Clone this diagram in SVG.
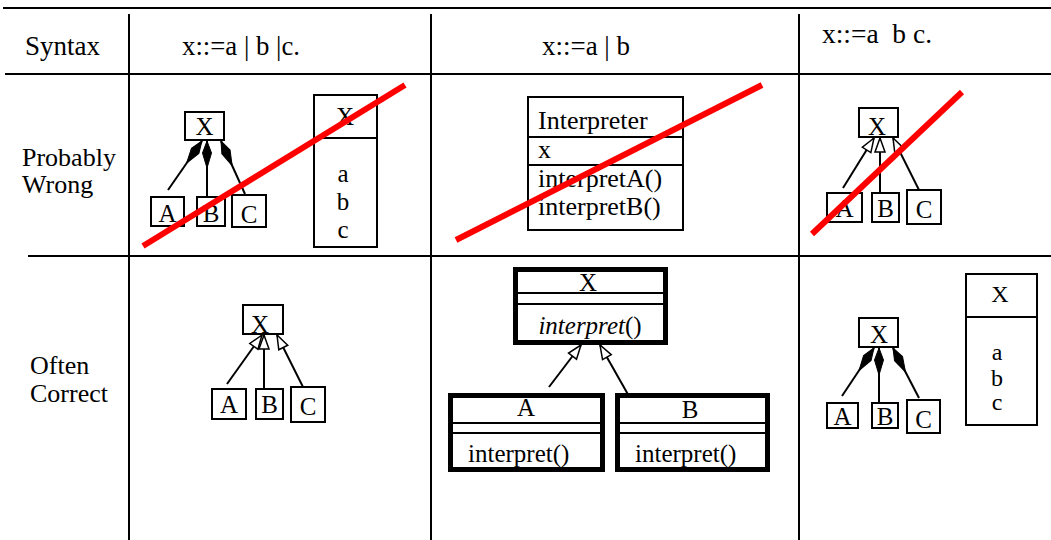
<svg xmlns="http://www.w3.org/2000/svg" width="1051" height="540" viewBox="0 0 1051 540" font-family="'Liberation Serif','Times New Roman',serif">
<style>
.grid{stroke:#000;stroke-width:2;fill:none}
.box{fill:#fff;stroke:#000;stroke-width:2}
.tbox{fill:#fff;stroke:#000;stroke-width:5}
.t{font-family:"Liberation Serif","Times New Roman",serif;fill:#000}
.m{text-anchor:middle}
.lbl{font-size:25px}
.link{stroke:#000;stroke-width:2;fill:none}
.strike{stroke:#ff0000;stroke-width:6;stroke-linecap:butt}
</style>
<defs>
<marker id="dia" viewBox="-30 -7 32 14" refX="0" refY="0" markerWidth="32" markerHeight="14" markerUnits="userSpaceOnUse" orient="auto">
<path d="M0,0 L-12,-4.5 L-27,0 L-12,4.5 Z" fill="#000" stroke="#000" stroke-width="1"/>
</marker>
<marker id="tri" viewBox="-17 -8 19 16" refX="0" refY="0" markerWidth="19" markerHeight="16" markerUnits="userSpaceOnUse" orient="auto">
<path d="M0,0 L-14,-5 L-14,5 Z" fill="#fff" stroke="#000" stroke-width="1.5"/>
</marker>
</defs>

<g id="table">
<line class="grid" x1="3" y1="8" x2="1051" y2="8"/>
<line class="grid" x1="5" y1="74" x2="1051" y2="74"/>
<line class="grid" x1="28" y1="256" x2="1051" y2="256"/>
<line class="grid" x1="129" y1="14" x2="129" y2="540"/>
<line class="grid" x1="431" y1="14" x2="431" y2="540"/>
<line class="grid" x1="799" y1="14" x2="799" y2="540"/>
</g>

<g id="headers" class="t">
<text class="t" x="25" y="55" font-size="28" textLength="75" lengthAdjust="spacingAndGlyphs">Syntax</text>
<text class="t" x="182" y="55" font-size="28" textLength="118" lengthAdjust="spacingAndGlyphs">x::=a | b |c.</text>
<text class="t" x="542" y="55" font-size="28" textLength="88" lengthAdjust="spacingAndGlyphs">x::=a | b</text>
<text class="t" x="822" y="43" font-size="28" textLength="110" lengthAdjust="spacingAndGlyphs" xml:space="preserve">x::=a  b c.</text>
<text class="t" x="22" y="166" font-size="26">Probably</text>
<text class="t" x="22" y="193" font-size="26">Wrong</text>
<text class="t" x="30" y="374" font-size="26">Often</text>
<text class="t" x="30" y="402" font-size="26">Correct</text>
</g>

<g id="connectors">
<line class="link" x1="168" y1="190" x2="202" y2="141" marker-end="url(#dia)"/>
<line class="link" x1="207" y1="197" x2="207" y2="141" marker-end="url(#dia)"/>
<line class="link" x1="245" y1="194" x2="221" y2="141" marker-end="url(#dia)"/>
<line class="link" x1="843" y1="188" x2="874" y2="138" marker-end="url(#tri)"/>
<line class="link" x1="880" y1="193" x2="880" y2="138" marker-end="url(#tri)"/>
<line class="link" x1="919" y1="190" x2="893" y2="138" marker-end="url(#tri)"/>
<line class="link" x1="227" y1="384" x2="262" y2="335" marker-end="url(#tri)"/>
<line class="link" x1="264" y1="389" x2="264" y2="335" marker-end="url(#tri)"/>
<line class="link" x1="303" y1="387" x2="277" y2="335" marker-end="url(#tri)"/>
<line class="link" x1="549" y1="387" x2="581" y2="345" marker-end="url(#tri)"/>
<line class="link" x1="630" y1="398" x2="600" y2="345" marker-end="url(#tri)"/>
<line class="link" x1="842" y1="396" x2="874" y2="348" marker-end="url(#dia)"/>
<line class="link" x1="879" y1="403" x2="879" y2="348" marker-end="url(#dia)"/>
<line class="link" x1="919" y1="398" x2="893" y2="348" marker-end="url(#dia)"/>
</g>

<!-- Row 1, column 1 -->
<g id="r1c1-X"><rect class="box" x="185" y="112" width="39" height="28"/><text class="t m lbl" x="204.5" y="135">X</text></g>
<g id="r1c1-A"><rect class="box" x="151" y="197" width="33" height="29"/><text class="t m lbl" x="167.5" y="222">A</text></g>
<g id="r1c1-B"><rect class="box" x="197" y="197" width="28" height="29"/><text class="t m lbl" x="211" y="222">B</text></g>
<g id="r1c1-C"><rect class="box" x="232" y="195" width="34" height="32"/><text class="t m lbl" x="249" y="223">C</text></g>
<g id="r1c1-class">
<rect class="box" x="314" y="95" width="63" height="152"/>
<line class="grid" x1="314" y1="138" x2="377" y2="138"/>
<text class="t m lbl" x="345" y="125">X</text>
<text class="t m lbl" x="343" y="182">a</text>
<text class="t m lbl" x="343" y="210">b</text>
<text class="t m lbl" x="343" y="238">c</text>
</g>

<!-- Row 1, column 2 -->
<g id="r1c2-Interpreter">
<rect class="box" x="528" y="97" width="155" height="133"/>
<line class="grid" x1="528" y1="137" x2="683" y2="137"/>
<line class="grid" x1="528" y1="165" x2="683" y2="165"/>
<text class="t" x="538" y="129" font-size="26">Interpreter</text>
<text class="t" x="538" y="158" font-size="26">x</text>
<text class="t" x="538" y="187" font-size="26">interpretA()</text>
<text class="t" x="538" y="215" font-size="26">interpretB()</text>
</g>

<!-- Row 1, column 3 -->
<g id="r1c3-X"><rect class="box" x="859" y="108" width="39" height="29"/><text class="t m lbl" x="877" y="135">X</text></g>
<g id="r1c3-A"><rect class="box" x="827" y="193" width="35" height="29"/><text class="t m lbl" x="844.5" y="217">A</text></g>
<g id="r1c3-B"><rect class="box" x="872" y="193" width="27" height="29"/><text class="t m lbl" x="885.5" y="217">B</text></g>
<g id="r1c3-C"><rect class="box" x="907" y="190" width="34" height="34"/><text class="t m lbl" x="924" y="218">C</text></g>

<!-- Row 2, column 1 -->
<g id="r2c1-X"><rect class="box" x="243" y="305" width="40" height="29"/><text class="t m lbl" x="260" y="333">X</text></g>
<g id="r2c1-A"><rect class="box" x="212" y="389" width="34" height="30"/><text class="t m lbl" x="229" y="413">A</text></g>
<g id="r2c1-B"><rect class="box" x="256" y="389" width="27" height="30"/><text class="t m lbl" x="269.5" y="413">B</text></g>
<g id="r2c1-C"><rect class="box" x="291" y="387" width="34" height="35"/><text class="t m lbl" x="308" y="415">C</text></g>

<!-- Row 2, column 2 -->
<g id="r2c2-X">
<rect class="tbox" x="515.5" y="269.5" width="150" height="73"/>
<line class="grid" x1="515" y1="293" x2="666" y2="293"/>
<line class="grid" x1="515" y1="304" x2="666" y2="304"/>
<text class="t m" x="588" y="291" font-size="25">X</text>
<text class="t m" x="590" y="334" font-size="25"><tspan font-style="italic">interpret</tspan>()</text>
</g>
<g id="r2c2-A">
<rect class="tbox" x="450.5" y="395.5" width="152" height="74"/>
<line class="grid" x1="450" y1="423" x2="603" y2="423"/>
<line class="grid" x1="450" y1="433" x2="603" y2="433"/>
<text class="t m" x="526" y="416" font-size="25">A</text>
<text class="t" x="468" y="462" font-size="25">interpret()</text>
</g>
<g id="r2c2-B">
<rect class="tbox" x="617.5" y="395.5" width="150" height="74"/>
<line class="grid" x1="617" y1="423" x2="768" y2="423"/>
<line class="grid" x1="617" y1="433" x2="768" y2="433"/>
<text class="t m" x="690" y="418" font-size="25">B</text>
<text class="t" x="635" y="462" font-size="25">interpret()</text>
</g>

<!-- Row 2, column 3 -->
<g id="r2c3-X"><rect class="box" x="859" y="318" width="39" height="29"/><text class="t m lbl" x="879" y="343">X</text></g>
<g id="r2c3-A"><rect class="box" x="827" y="403" width="31" height="25"/><text class="t m lbl" x="842.5" y="425">A</text></g>
<g id="r2c3-B"><rect class="box" x="872" y="403" width="26" height="25"/><text class="t m lbl" x="885" y="425">B</text></g>
<g id="r2c3-C"><rect class="box" x="907" y="400" width="33" height="33"/><text class="t m lbl" x="923.5" y="428">C</text></g>
<g id="r2c3-class">
<rect class="box" x="966" y="274" width="71" height="151"/>
<line class="grid" x1="966" y1="317" x2="1037" y2="317"/>
<text class="t m" x="1000" y="302" font-size="24">X</text>
<text class="t m" x="997" y="360" font-size="24">a</text>
<text class="t m" x="997" y="386" font-size="24">b</text>
<text class="t m" x="997" y="410" font-size="24">c</text>
</g>

<g id="strikes">
<line class="strike" x1="143" y1="246" x2="405" y2="85"/>
<line class="strike" x1="456" y1="240" x2="762" y2="85"/>
<line class="strike" x1="812" y1="234" x2="962" y2="92"/>
</g>
</svg>
